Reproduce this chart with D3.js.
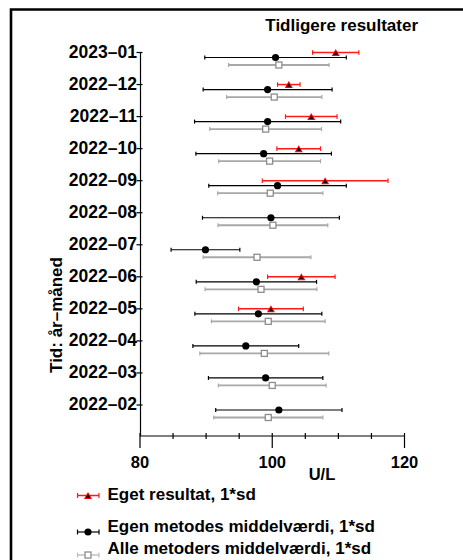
<!DOCTYPE html>
<html><head><meta charset="utf-8">
<script src="https://cdn.jsdelivr.net/npm/d3@7"></script>
<style>body{margin:0;background:#fff}svg{display:block}text{font-family:"Liberation Sans",Arial,sans-serif;font-weight:bold}</style>
</head><body>
<svg id="c" width="463" height="560"></svg>
<script>
const categories = ["2023\u201301","2022\u201312","2022\u201311","2022\u201310","2022\u201309","2022\u201308","2022\u201307","2022\u201306","2022\u201305","2022\u201304","2022\u201303","2022\u201302"];
const ownResult = [109.6,102.5,105.9,104.0,108.0,null,null,104.4,99.8,null,null,null];
const ownResultSd = [3.5,1.7,3.9,3.3,9.5,null,null,5.1,4.9,null,null,null];
const methodMean = [100.5,99.3,99.3,98.7,100.8,99.8,89.9,97.6,97.9,96.0,99.0,101.0];
const methodSd = [10.7,9.75,11.05,10.25,10.4,10.35,5.2,9.1,9.6,8.0,8.65,9.55];
const allMean = [101.0,100.3,99.0,99.6,99.7,100.1,97.7,98.3,99.4,98.8,100.0,99.4];
const allSd = [7.6,7.2,8.45,7.7,7.95,8.3,8.15,8.45,8.6,9.75,8.15,8.25];
const xTicksMajor = [80,100,120];
const xTicksMinor = [85,90,95,105,110,115];
const legendLabels = ["Eget resultat, 1*sd","Egen metodes middelværdi, 1*sd","Alle metoders middelværdi, 1*sd"];

const svg = d3.select("#c");
const x = d3.scaleLinear().domain([80,120]).range([140,404.5]);
const y = d3.scalePoint().domain(categories).range([52.5,405]);
const xAxisY = 436, yAxisX = 140.5;

// frame
svg.append("path").attr("d","M11,570 L11,9.5 L475,9.5").attr("fill","none").attr("stroke","#000").attr("stroke-width",2.6);

// title
svg.append("text").attr("x",341.7).attr("y",31).attr("text-anchor","middle").attr("font-size",17).text("Tidligere resultater");

// y axis
svg.append("line").attr("x1",yAxisX).attr("x2",yAxisX).attr("y1",y(categories[0])).attr("y2",xAxisY).attr("stroke","#000").attr("stroke-width",1.2);
const yt = svg.append("g").selectAll("g").data(categories).join("g");
yt.append("line").attr("x1",yAxisX-4).attr("x2",yAxisX+2).attr("y1",d=>y(d)).attr("y2",d=>y(d)).attr("stroke","#000").attr("stroke-width",1.2);
yt.append("text").attr("x",137).attr("y",d=>y(d)+5.2).attr("text-anchor","end").attr("font-size",17.5).text(d=>d);
svg.append("text").attr("transform","translate(61.5,315) rotate(-90)").attr("text-anchor","middle").attr("font-size",17).text("Tid: år\u2013måned");

// x axis
svg.append("line").attr("x1",x(80)).attr("x2",x(120)).attr("y1",xAxisY).attr("y2",xAxisY).attr("stroke","#000").attr("stroke-width",1.2);
svg.append("g").selectAll("line").data(xTicksMinor).join("line").attr("x1",d=>x(d)).attr("x2",d=>x(d)).attr("y1",xAxisY-3).attr("y2",xAxisY+3).attr("stroke","#000").attr("stroke-width",1.2);
svg.append("g").selectAll("line").data(xTicksMajor).join("line").attr("x1",d=>x(d)).attr("x2",d=>x(d)).attr("y1",xAxisY-3).attr("y2",xAxisY+12).attr("stroke","#000").attr("stroke-width",1.2);
svg.append("g").selectAll("text").data(xTicksMajor).join("text").attr("x",d=>x(d)).attr("y",468.3).attr("text-anchor","middle").attr("font-size",16.5).text(d=>d);
svg.append("text").attr("x",322).attr("y",480).attr("text-anchor","middle").attr("font-size",16.5).text("U/L");

function errBar(g, x1, x2, yy, color, w, cap){
  g.append("line").attr("x1",x1).attr("x2",x2).attr("y1",yy).attr("y2",yy).attr("stroke",color).attr("stroke-width",w);
  [x1,x2].forEach(xx=>g.append("line").attr("x1",xx).attr("x2",xx).attr("y1",yy-cap).attr("y2",yy+cap).attr("stroke",color).attr("stroke-width",1.2));
}
function tri(g, cx, cy){
  g.append("path").attr("d",`M${cx-4},${cy+3.5} L${cx},${cy-3.5} L${cx+4},${cy+3.5} Z`).attr("fill","#ff0000");
  g.append("path").attr("d",`M${cx-2.2},${cy+2.3} L${cx},${cy-1.4} L${cx+2.2},${cy+2.3} Z`).attr("fill","#000");
}
function circ(g,cx,cy){ g.append("circle").attr("cx",cx).attr("cy",cy).attr("r",3.6).attr("fill","#000"); }
function sq(g,cx,cy){ g.append("rect").attr("x",cx-3).attr("y",cy-3).attr("width",6).attr("height",6).attr("fill","#fff").attr("stroke","#8c8c8c").attr("stroke-width",1.3); }

const marks = svg.append("g");
categories.forEach((c,i)=>{
  const yc = y(c);
  const gAll = marks.append("g");
  errBar(gAll, x(allMean[i]-allSd[i]), x(allMean[i]+allSd[i]), yc+12.5, "#a8a8a8", 1.8, 2);
  sq(gAll, x(allMean[i]), yc+12.5);
  const gM = marks.append("g");
  errBar(gM, x(methodMean[i]-methodSd[i]), x(methodMean[i]+methodSd[i]), yc+5, "#000", 1.2, 2);
  circ(gM, x(methodMean[i]), yc+5);
  if(ownResult[i]!=null){
    const gR = marks.append("g");
    errBar(gR, x(ownResult[i]-ownResultSd[i]), x(ownResult[i]+ownResultSd[i]), yc, "#ff1a1a", 1.5, 2.3);
    tri(gR, x(ownResult[i]), yc);
  }
});

// legend
const lg = svg.append("g");
const ly = [495.5, 532, 555];
const lt = [500, 531.5, 554];
errBar(lg, 77.5, 99, ly[0], "#ff1a1a", 1.5, 2.5); tri(lg, 88, ly[0]);
errBar(lg, 77.5, 99, ly[1], "#000", 1.2, 2.5); circ(lg, 88, ly[1]);
errBar(lg, 77.5, 99, ly[2], "#c0c0c0", 1.5, 2.5); sq(lg, 88, ly[2]);
legendLabels.forEach((t,i)=>lg.append("text").attr("x",107.5).attr("y",lt[i]).attr("font-size",17).text(t));
</script>
</body></html>
